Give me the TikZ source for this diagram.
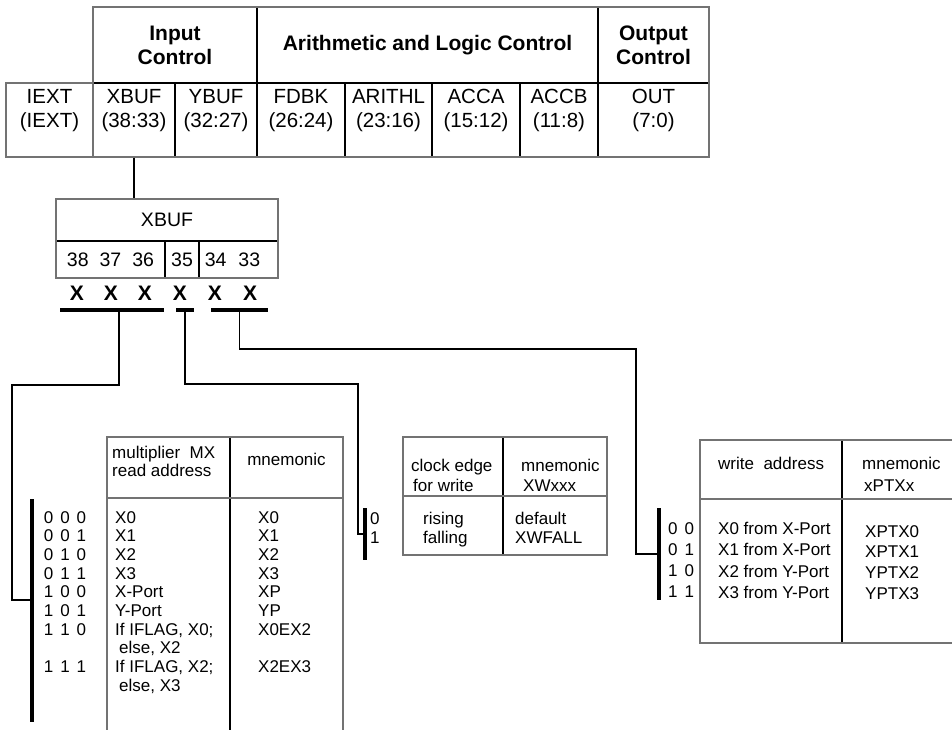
\documentclass[tikz,border=0pt]{standalone}
\usepackage{fontspec}
\setmainfont{Liberation Sans}
\newcommand{\gap}{\hspace{7pt}}

\begin{document}
\begin{tikzpicture}[x=1pt, y=-1pt,
    cell/.style={draw, line width=1.1pt, inner sep=0pt, align=center, font=\fontsize{20.5}{24}\selectfont},
    head/.style={cell, font=\fontsize{21}{24}\selectfont\bfseries},
    rim/.style={draw=black!55, line width=2.8pt},
    rule/.style={line width=1.1pt},
    bitx/.style={inner sep=0pt, font=\fontsize{21}{21}\selectfont\bfseries},
    vbar/.style={fill, inner sep=0pt, minimum width=3.6pt},
    hbar/.style={fill, inner sep=0pt, minimum height=3.6pt},
    entry/.style={inner sep=0pt, anchor=north west, align=left, font=\fontsize{17}{18.7}\selectfont},
    wire/.style={line width=1.3pt}
]
\path[use as bounding box, clip] (0,0) rectangle (952,730);

% instruction word
\node[head, minimum width=164pt, minimum height=76pt] (inctl) at (175,45) {Input\\Control};
\node[head, minimum width=341pt, minimum height=76pt] (alctl) at (427.5,45) {Arithmetic and Logic Control};
\node[head, minimum width=111pt, minimum height=76pt] (outctl) at (653.5,45) {Output\\Control};

\node[cell, minimum width=87pt, minimum height=74pt] (iext) at (49.5,120) {IEXT\\(IEXT)\\\mbox{}};
\node[cell, minimum width=82pt, minimum height=74pt] (xbuf) at (134,120) {XBUF\\(38:33)\\\mbox{}};
\node[cell, minimum width=82pt, minimum height=74pt] (ybuf) at (216,120) {YBUF\\(32:27)\\\mbox{}};
\node[cell, minimum width=88pt, minimum height=74pt] (fdbk) at (301,120) {FDBK\\(26:24)\\\mbox{}};
\node[cell, minimum width=87pt, minimum height=74pt] (arithl) at (388.5,120) {ARITHL\\(23:16)\\\mbox{}};
\node[cell, minimum width=88pt, minimum height=74pt] (acca) at (476,120) {ACCA\\(15:12)\\\mbox{}};
\node[cell, minimum width=78pt, minimum height=74pt] (accb) at (559,120) {ACCB\\(11:8)\\\mbox{}};
\node[cell, minimum width=111pt, minimum height=74pt] (out) at (653.5,120) {OUT\\(7:0)\\\mbox{}};

\draw[rim] (6,83) -- (93,83) -- (93,7) -- (709,7) -- (709,157) -- (6,157) -- cycle;
\draw[rim] (93,83) -- (93,157);

% XBUF field
\node[cell, font=\fontsize{19.5}{22}\selectfont, minimum width=222pt, minimum height=42pt] (xbox) at (167,220) {XBUF};
\node[cell, font=\fontsize{19.5}{22}\selectfont, minimum width=109pt, minimum height=37pt] (hibits) at (110.5,259.5) {38\hspace{11pt}37\hspace{11pt}36};
\node[cell, font=\fontsize{19.5}{22}\selectfont, minimum width=34pt, minimum height=37pt] (midbit) at (182,259.5) {35};
\node[cell, font=\fontsize{19.5}{22}\selectfont, minimum width=79pt, minimum height=37pt] (lobits) at (238.5,259.5) {34\hspace{12pt}33\hspace{12pt}};
\draw[rim] (56,199) rectangle (278,278);

\draw[wire] (xbuf.south) -- (xbuf.south |- xbox.north);

\node[bitx] (x38) at (77,293) {X};
\node[bitx] (x37) at (111,293) {X};
\node[bitx] (x36) at (145,293) {X};
\node[bitx] (x35) at (180,293) {X};
\node[bitx] (x34) at (215,293) {X};
\node[bitx] (x33) at (250,293) {X};

\node[hbar, minimum width=104pt] (selmx) at (112,310) {};
\node[hbar, minimum width=18pt] (selwe) at (185,310) {};
\node[hbar, minimum width=57pt] (selpt) at (239.5,310) {};

% selector bars beside the tables
\node[vbar, minimum height=223pt] (mxbar) at (32,610.5) {};
\node[vbar, minimum height=52pt] (webar) at (365,534) {};
\node[vbar, minimum height=92pt] (ptbar) at (659,554) {};

\coordinate (mxturn) at (12,385);
\coordinate (mxtap) at (32,600);
\coordinate (weturn) at (358,384);
\coordinate (ptturn) at (636,349);

\draw[wire] ([xshift=7pt]selmx.south) |- (mxturn) |- (mxtap);
\draw[wire] (selwe.south) |- (weturn) |- (webar.west);
\draw[wire] (selpt.south) |- (ptturn) |- (ptbar.west);

% multiplier read address table
\draw[rule] (230,437) -- (230,740);
\draw[rim] (107,740) -- (107,437) -- (343,437) -- (343,740);
\draw[rim] (107,498) -- (343,498);
\node[entry, font=\fontsize{17}{18}\selectfont] (mxhead) at (112,446) {multiplier\ \ MX\\read address};
\node[entry, anchor=north] (mxmnemhead) at (286.5,453) {mnemonic};
\node[entry, anchor=north] (mxbits) at (65,511) {0\gap0\gap0\\0\gap0\gap1\\0\gap1\gap0\\0\gap1\gap1\\1\gap0\gap0\\1\gap0\gap1\\1\gap1\gap0\\\mbox{}\\1\gap1\gap1};
\node[entry] (mxaddr) at (115,511) {X0\\X1\\X2\\X3\\X-Port\\Y-Port\\If IFLAG, X0;\\\hspace*{4pt}else, X2\\If IFLAG, X2;\\\hspace*{4pt}else, X3};
\node[entry] (mxmnem) at (258,511) {X0\\X1\\X2\\X3\\XP\\YP\\X0EX2\\\mbox{}\\X2EX3};

% clock edge table
\draw[rule] (503,437) -- (503,555);
\draw[rim] (403,437) rectangle (607,555);
\draw[rim] (403,496) -- (607,496);
\node[entry, font=\fontsize{17}{20}\selectfont] (wehead) at (411,459) {clock edge\\\hspace*{2pt}for write};
\node[entry, font=\fontsize{17}{20}\selectfont] (wemnemhead) at (521,459) {mnemonic\\\hspace*{2pt}XWxxx};
\node[entry, font=\fontsize{17}{19}\selectfont] (webits) at (370,512) {0\\1};
\node[entry, font=\fontsize{17}{19}\selectfont] (weedge) at (423,512) {rising\\falling};
\node[entry, font=\fontsize{17}{19}\selectfont] (wemnem) at (515,512) {default\\XWFALL};

% port transfer table
\draw[rule] (842,440) -- (842,643);
\draw[rim] (960,440) -- (700,440) -- (700,643) -- (960,643);
\draw[rim] (700,499) -- (960,499);
\node[entry] (pthead) at (718,457) {write\ \ address};
\node[entry, font=\fontsize{17}{22}\selectfont] (ptmnemhead) at (862,457) {mnemonic\\\hspace*{2pt}xPTXx};
\node[entry, font=\fontsize{17}{21.3}\selectfont] (ptbits) at (668,522) {0\gap0\\0\gap1\\1\gap0\\1\gap1};
\node[entry, font=\fontsize{17}{21.3}\selectfont] (ptaddr) at (718,522) {X0 from X-Port\\X1 from X-Port\\X2 from Y-Port\\X3 from Y-Port};
\node[entry, font=\fontsize{17}{20.7}\selectfont] (ptmnem) at (865,525) {XPTX0\\XPTX1\\YPTX2\\YPTX3};

\end{tikzpicture}
\end{document}
